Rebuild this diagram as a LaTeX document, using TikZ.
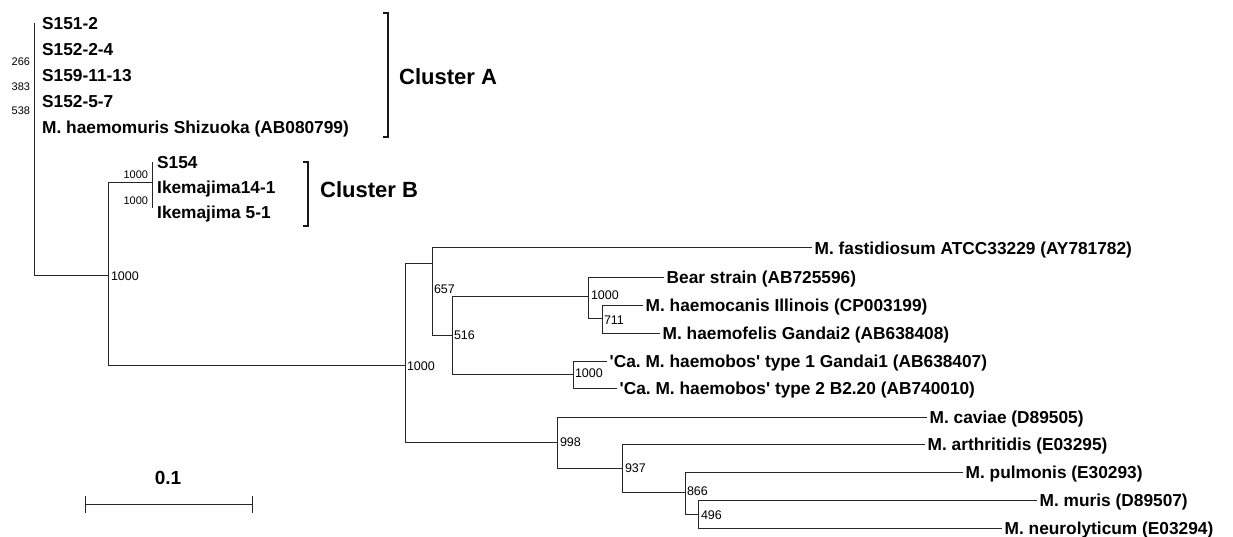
\documentclass[tikz,border=0pt]{standalone}
\usepackage{fontspec}
\setmainfont{Liberation Sans}
\frenchspacing
\begin{document}
\frenchspacing
\begin{tikzpicture}[x=1pt,y=-1pt,
  br/.style={line width=1pt, draw=black!85},
  brk/.style={line width=2pt, draw=black!90},
  leaf/.style={anchor=west, inner xsep=2.5pt, inner ysep=0pt, text height=12.4pt, text depth=0pt,
    font=\fontsize{17.3}{18}\selectfont\bfseries},
  bs/.style={anchor=west, inner sep=0.8pt, text height=8.9pt, text depth=0pt,
    font=\fontsize{12.5}{13}\selectfont},
  bsl/.style={anchor=east, inner sep=0.8pt, text height=7.9pt, text depth=0pt,
    font=\fontsize{11}{12}\selectfont},
  clab/.style={anchor=west, inner sep=0pt, text height=15.8pt, text depth=0pt,
    font=\fontsize{22}{24}\selectfont\bfseries}]
\useasboundingbox (0,0) rectangle (1233,537);

% internal nodes
\coordinate (rt) at (34,23);
\coordinate (rb) at (34,275);
\coordinate (n1) at (108,275);
\coordinate (nB) at (152,183);
\coordinate (n2) at (405,365);
\coordinate (n657) at (432,263);
\coordinate (n516) at (452,335);
\coordinate (nC) at (588,296);
\coordinate (n711) at (602,318);
\coordinate (nD) at (573,374);
\coordinate (n998) at (557,442);
\coordinate (n937) at (622,468);
\coordinate (n866) at (685,492);
\coordinate (n496) at (698,514);

% cluster A leaves
\node[leaf] (a1) at (39.5,23) {S151-2};
\node[leaf] (a2) at (39.5,49) {S152-2-4};
\node[leaf] (a3) at (39.5,75) {S159-11-13};
\node[leaf] (a4) at (39.5,101) {S152-5-7};
\node[leaf] (a5) at (39.5,127) {M. haemomuris Shizuoka (AB080799)};
% cluster B leaves
\node[leaf] (b1) at (154.5,162) {S154};
\node[leaf] (b2) at (154.5,187) {Ikemajima14-1};
\node[leaf] (b3) at (154.5,212) {Ikemajima 5-1};
% other leaves
\node[leaf] (lfast) at (812,248) {M. fastidiosum ATCC33229 (AY781782)};
\node[leaf] (lbear) at (664,277) {Bear strain (AB725596)};
\node[leaf] (lcanis) at (643,305) {M. haemocanis Illinois (CP003199)};
\node[leaf] (lfelis) at (660,333) {M. haemofelis Gandai2 (AB638408)};
\node[leaf] (lt1) at (607,361) {\textquotesingle Ca.\ M. haemobos\textquotesingle{} type 1 Gandai1 (AB638407)};
\node[leaf] (lt2) at (617,388) {\textquotesingle Ca.\ M. haemobos\textquotesingle{} type 2 B2.20 (AB740010)};
\node[leaf] (lcav) at (927,417) {M. caviae (D89505)};
\node[leaf] (larth) at (925,444) {M. arthritidis (E03295)};
\node[leaf] (lpulm) at (963,472) {M. pulmonis (E30293)};
\node[leaf] (lmur) at (1037,500) {M. muris (D89507)};
\node[leaf] (lneu) at (1002,528) {M. neurolyticum (E03294)};

% branches
\draw[br] (rt) -- (rb) -- (n1);
\draw[br] (n1) |- (nB);
\draw[br] (n1) |- (n2);
\draw[br] (nB |- b1.west) -- ([yshift=4pt]nB |- b3.west);
\draw[br] (n2) |- (n657);
\draw[br] (n2) |- (n998);
\draw[br] (n657) |- (lfast.west);
\draw[br] (n657) |- (n516);
\draw[br] (n516) |- (nC);
\draw[br] (n516) |- (nD);
\draw[br] (nC) |- (lbear.west);
\draw[br] (nC) |- (n711);
\draw[br] (n711) |- (lcanis.west);
\draw[br] (n711) |- (lfelis.west);
\draw[br] (nD) |- (lt1.west);
\draw[br] (nD) |- (lt2.west);
\draw[br] (n998) |- (lcav.west);
\draw[br] (n998) |- (n937);
\draw[br] (n937) |- (larth.west);
\draw[br] (n937) |- (n866);
\draw[br] (n866) |- (lpulm.west);
\draw[br] (n866) |- (n496);
\draw[br] (n496) |- (lmur.west);
\draw[br] (n496) |- (lneu.west);

% bootstrap values
\node[bsl] (s266) at (31,62) {266};
\node[bsl] (s383) at (31,87) {383};
\node[bsl] (s538) at (31,111) {538};
\node[bsl] (sB1) at (149,175) {1000};
\node[bsl] (sB2) at (149,201) {1000};
\node[bs] (s1) at (110,276) {1000};
\node[bs] (s2) at (406,366) {1000};
\node[bs] (s657) at (433,289) {657};
\node[bs] (s516) at (453,335) {516};
\node[bs] (sC) at (590,295) {1000};
\node[bs] (s711) at (603,320) {711};
\node[bs] (sD) at (574,373) {1000};
\node[bs] (s998) at (559,442) {998};
\node[bs] (s937) at (624,468) {937};
\node[bs] (s866) at (686,491) {866};
\node[bs] (s496) at (700,515) {496};

% cluster brackets
\coordinate (ca1) at (383,13);
\coordinate (ca2) at (383,137);
\draw[brk] (ca1) -- ++(4.5,0) |- (ca2);
\node[clab] (cA) at (399,77) {Cluster A};
\coordinate (cb1) at (303,162);
\coordinate (cb2) at (303,226);
\draw[brk] (cb1) -- ++(5,0) |- (cb2);
\node[clab] (cB) at (320,190) {Cluster B};

% scale bar
\coordinate (sb1) at (85,504);
\coordinate (sb2) at (252,504);
\draw[br] (sb1) -- (sb2);
\draw[br] ([yshift=-8.5pt]sb1) -- ([yshift=8.5pt]sb1);
\draw[br] ([yshift=-8.5pt]sb2) -- ([yshift=8.5pt]sb2);
\node[inner sep=0pt, font=\fontsize{19}{20}\selectfont\bfseries] (sbl) at (168,478) {0.1};
\end{tikzpicture}
\end{document}
